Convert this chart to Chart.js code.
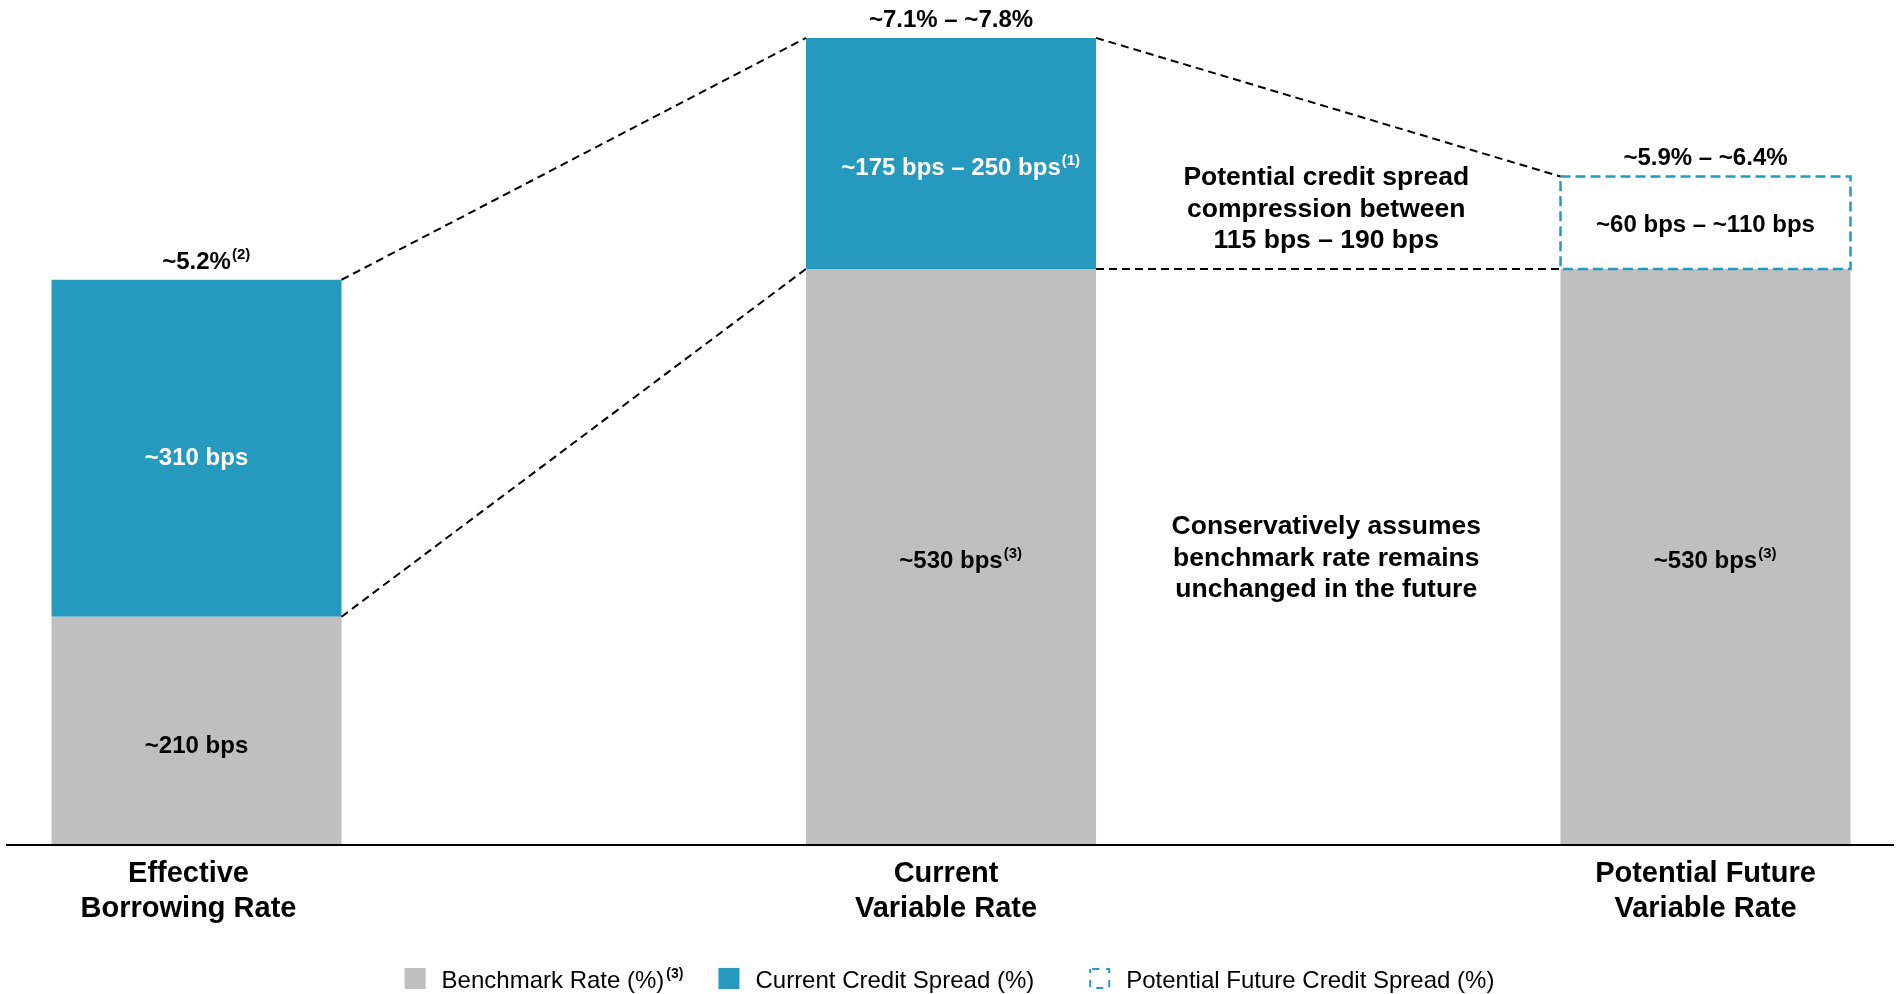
<!DOCTYPE html>
<html>
<head>
<meta charset="utf-8">
<title>Borrowing rate and credit spread</title>
<script src="https://cdn.jsdelivr.net/npm/chart.js@4.4.1/dist/chart.umd.min.js"></script>
<style>
  html, body { margin: 0; padding: 0; background: #ffffff; }
  #wrap { width: 1899px; height: 994px; }
</style>
</head>
<body>
<div id="wrap"><canvas id="chart" width="1899" height="994"></canvas></div>
<script>
// Categories (one entry per bar, split into axis label lines)
const categories = [
  ["Effective", "Borrowing Rate"],
  ["Current", "Variable Rate"],
  ["Potential Future", "Variable Rate"]
];

// Series values, in basis points
const benchmarkBps = [210, 530, 530];
const currentSpreadBps = [310, 212.5, null];
const futureSpreadBps = [null, null, 85];

// Value labels: [main text, superscript note]
const totalLabels = [["~5.2%", "(2)"], ["~7.1% \u2013 ~7.8%", ""], ["~5.9% \u2013 ~6.4%", ""]];
const benchmarkLabels = [["~210 bps", ""], ["~530 bps", "(3)"], ["~530 bps", "(3)"]];
const currentSpreadLabels = [["~310 bps", ""], ["~175 bps \u2013 250 bps", "(1)"], null];
const futureSpreadLabels = [null, null, ["~60 bps \u2013 ~110 bps", ""]];

// Notes placed between the second and third bars, anchored at a bps level
const noteLines = [
  ["Potential credit spread", "compression between", "115 bps \u2013 190 bps"],
  ["Conservatively assumes", "benchmark rate remains", "unchanged in the future"]
];
const noteAnchorBps = [578, 257];

// Legend entries
const legendNames = ["Benchmark Rate (%)", "Current Credit Spread (%)", "Potential Future Credit Spread (%)"];
const legendNotes = ["(3)", "", ""];

// Styling: colours, fonts and label nudges (pixels)
const GRAY = "#BFBFBF";
const BLUE = "#269ABE";
const FONT = "'Liberation Sans', Arial, Helvetica, sans-serif";
const categoryShiftPx = [-8, -5, 0];
const benchmarkLabelDy = [22, 11, 11];
const spreadLabelDy = [17, 22, 0];
const futureLabelDy = [0, 0, 9];

function toPoints(arr) {
  return arr.map((v, i) => ({ x: i, y: v }));
}

function drawLabel(ctx, cx, baseline, parts, size, color) {
  const [main, sup] = parts;
  ctx.font = "bold " + size + "px " + FONT;
  const w = ctx.measureText(main).width;
  ctx.fillStyle = color;
  ctx.textAlign = "left";
  ctx.textBaseline = "alphabetic";
  ctx.fillText(main, cx - w / 2, baseline);
  if (sup) {
    ctx.font = "bold 15px " + FONT;
    ctx.fillText(sup, cx + w / 2 + 1, baseline - 10);
  }
}

const overlayPlugin = {
  id: "overlay",
  afterDatasetsDraw(chart) {
    const ctx = chart.ctx;
    const bench = chart.getDatasetMeta(0).data;
    const spread = chart.getDatasetMeta(1).data;
    const future = chart.getDatasetMeta(2).data;
    const yScale = chart.scales.y;

    ctx.save();

    // Dashed outline for the potential future spread
    future.forEach((el, i) => {
      if (futureSpreadBps[i] == null) return;
      const p = el.getProps(["x", "y", "base", "width"], true);
      ctx.save();
      ctx.strokeStyle = BLUE;
      ctx.lineWidth = 2.5;
      ctx.setLineDash([10, 5]);
      ctx.strokeRect(p.x - p.width / 2, p.y, p.width, p.base - p.y);
      ctx.restore();
    });

    // Stack top of each bar
    const tops = bench.map((el, i) => {
      let top = el.y;
      if (currentSpreadBps[i] != null) top = Math.min(top, spread[i].y);
      if (futureSpreadBps[i] != null) top = Math.min(top, future[i].y);
      return top;
    });

    // Dashed connectors between neighbouring bars
    ctx.save();
    ctx.strokeStyle = "#000000";
    ctx.lineWidth = 2;
    ctx.setLineDash([8, 5]);
    for (let i = 0; i < bench.length - 1; i++) {
      const a = bench[i], b = bench[i + 1];
      const ax = a.x + a.width / 2, bx = b.x - b.width / 2;
      ctx.beginPath();
      ctx.moveTo(ax, tops[i]);
      ctx.lineTo(bx, tops[i + 1]);
      ctx.moveTo(ax, a.y);
      ctx.lineTo(bx, b.y);
      ctx.stroke();
    }
    ctx.restore();

    // Totals above the bars
    bench.forEach((el, i) => {
      drawLabel(ctx, el.x, tops[i] - 11, totalLabels[i], 24, "#000000");
    });

    // Segment labels
    bench.forEach((el, i) => {
      drawLabel(ctx, el.x, (el.y + el.base) / 2 + benchmarkLabelDy[i], benchmarkLabels[i], 24, "#000000");
    });
    spread.forEach((el, i) => {
      if (!currentSpreadLabels[i]) return;
      drawLabel(ctx, el.x, (el.y + el.base) / 2 + spreadLabelDy[i], currentSpreadLabels[i], 24, "#FFFFFF");
    });
    future.forEach((el, i) => {
      if (!futureSpreadLabels[i]) return;
      drawLabel(ctx, el.x, (el.y + el.base) / 2 + futureLabelDy[i], futureSpreadLabels[i], 24, "#000000");
    });

    // Notes between the second and third bars
    const noteX = ((bench[1].x + bench[1].width / 2) + (bench[2].x - bench[2].width / 2)) / 2 - 2;
    ctx.font = "bold 26.5px " + FONT;
    ctx.fillStyle = "#000000";
    ctx.textAlign = "center";
    ctx.textBaseline = "alphabetic";
    noteLines.forEach((lines, n) => {
      const mid = yScale.getPixelForValue(noteAnchorBps[n]);
      lines.forEach((line, k) => {
        ctx.fillText(line, noteX, mid + (k - 1) * 31.5);
      });
    });

    // Legend
    const H = chart.height;
    const box = 21;
    const gapText = 16;
    const itemGaps = [35, 55];
    ctx.textAlign = "left";
    const widths = legendNames.map((name, i) => {
      ctx.font = "24px " + FONT;
      let w = ctx.measureText(name).width;
      if (legendNotes[i]) {
        ctx.font = "bold 14px " + FONT;
        w += 2 + ctx.measureText(legendNotes[i]).width;
      }
      return box + gapText + w;
    });
    const total = widths.reduce((s, w) => s + w, 0) + itemGaps.reduce((s, g) => s + g, 0);
    let lx = chart.width / 2 - total / 2;
    const boxTop = H - 26;
    const baseline = H - 6;
    legendNames.forEach((name, i) => {
      if (i === 0) { ctx.fillStyle = GRAY; ctx.fillRect(lx, boxTop, box, box); }
      else if (i === 1) { ctx.fillStyle = BLUE; ctx.fillRect(lx, boxTop, box, box); }
      else {
        ctx.save();
        ctx.strokeStyle = BLUE;
        ctx.lineWidth = 2;
        ctx.setLineDash([7, 7]);
        ctx.lineDashOffset = -2;
        ctx.strokeRect(lx + 1, boxTop + 1, box - 2, box - 2);
        ctx.restore();
      }
      ctx.fillStyle = "#000000";
      ctx.font = "24px " + FONT;
      const tx = lx + box + gapText;
      ctx.fillText(name, tx, baseline);
      if (legendNotes[i]) {
        const w = ctx.measureText(name).width;
        ctx.font = "bold 14px " + FONT;
        ctx.fillText(legendNotes[i], tx + w + 2, baseline - 10);
      }
      lx += widths[i] + (itemGaps[i] || 0);
    });

    ctx.restore();
  }
};

const chart = new Chart(document.getElementById("chart"), {
  type: "bar",
  data: {
    datasets: [
      { label: legendNames[0], data: toPoints(benchmarkBps), backgroundColor: GRAY, borderWidth: 0 },
      { label: legendNames[1], data: toPoints(currentSpreadBps), backgroundColor: BLUE, borderWidth: 0 },
      { label: legendNames[2], data: toPoints(futureSpreadBps), backgroundColor: "rgba(0,0,0,0)", borderWidth: 0 }
    ]
  },
  options: {
    responsive: false,
    devicePixelRatio: 1,
    animation: false,
    layout: { padding: { left: 7, right: 6, top: 8, bottom: 0 } },
    datasets: { bar: { barThickness: 290, inflateAmount: 0 } },
    plugins: {
      legend: { display: false },
      tooltip: { enabled: false }
    },
    scales: {
      x: {
        type: "linear",
        stacked: true,
        offset: false,
        min: -0.2512,
        max: 2.2485,
        afterBuildTicks(scale) {
          const unitPx = scale.width / (scale.max - scale.min);
          scale.ticks = categories.map((c, i) => ({ value: i + categoryShiftPx[i] / unitPx }));
        },
        afterFit(scale) { scale.height = 149; },
        grid: { display: true, color: "rgba(0,0,0,0)", drawTicks: false },
        border: { display: true, color: "#000000", width: 2, z: 1 },
        ticks: {
          autoSkip: false,
          maxRotation: 0,
          padding: 11,
          color: "#000000",
          font: { family: FONT, size: 29, weight: "bold", lineHeight: 1.207 },
          callback: (value) => categories[Math.round(value)] || ""
        }
      },
      y: {
        display: false,
        stacked: true,
        min: 0,
        max: 770
      }
    }
  },
  plugins: [overlayPlugin]
});
</script>
</body>
</html>
